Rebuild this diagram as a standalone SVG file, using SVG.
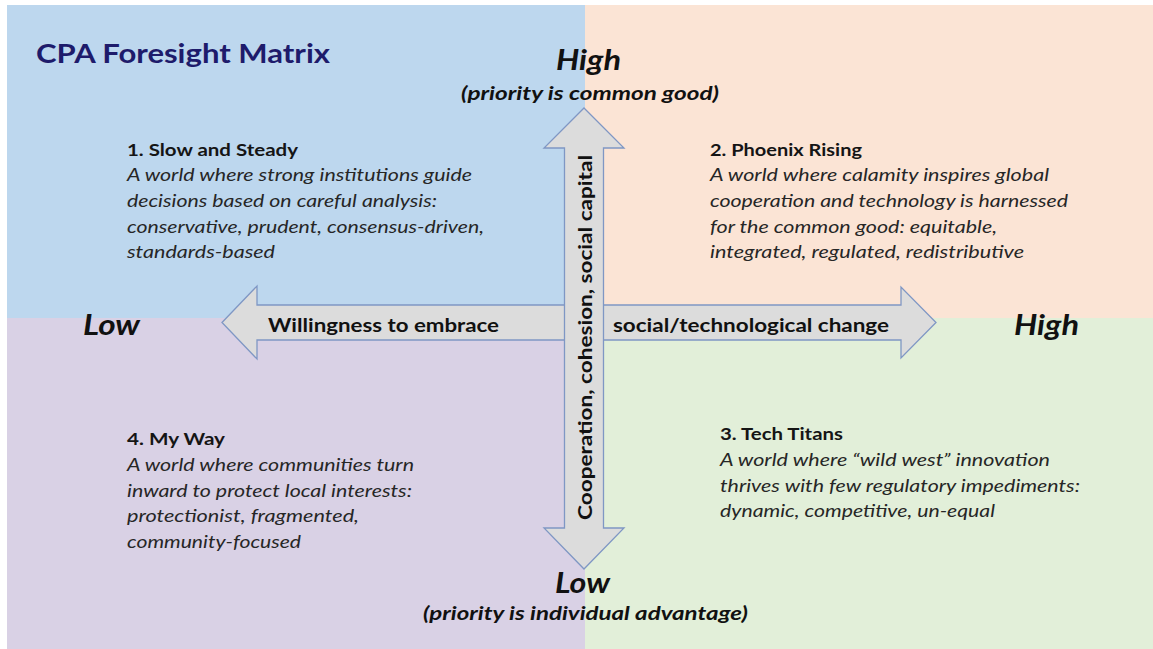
<svg xmlns="http://www.w3.org/2000/svg" width="1153" height="649" viewBox="0 0 1153 649">
  <style>
    text { font-family: Lato, "Liberation Sans", sans-serif; }
    .title { font-size: 27px; font-weight: bold; fill: #1e1b6b; }
    .pole { font-size: 29px; font-weight: bold; font-style: italic; fill: #111; }
    .sub { font-size: 19.5px; font-weight: bold; font-style: italic; fill: #111; }
    .axis { font-size: 19.5px; font-weight: bold; fill: #111; }
    .head { font-size: 17.5px; font-weight: bold; fill: #151515; }
    .body { font-size: 17.5px; font-style: italic; fill: #262626; }
    .arrow { fill: #dcdcdc; stroke: #7f97c4; stroke-width: 1.3; stroke-linejoin: miter; }
  </style>

  <!-- quadrant backgrounds -->
  <rect x="0" y="0" width="1153" height="649" fill="#ffffff"/>
  <rect x="7" y="5" width="578" height="313" fill="#bdd7ee"/>
  <rect x="585" y="5" width="568" height="313" fill="#fbe4d5"/>
  <rect x="7" y="318" width="578" height="331" fill="#d9d1e5"/>
  <rect x="585" y="318" width="568" height="331" fill="#e2efd9"/>

  <text class="title" x="36" y="63" textLength="294" lengthAdjust="spacingAndGlyphs">CPA Foresight Matrix</text>

  <!-- axes -->
  <g id="connectors">
    <polygon id="axis-change" class="arrow" points="222,322.5 257,286 257,305 901,305 901,287 936,322.5 901,358 901,340 257,340 257,359"/>
    <polygon id="axis-cooperation" class="arrow" points="584,108 624,148 603.5,148 603.5,528 624,528 584,569 544,528 564.5,528 564.5,148 544,148"/>
  </g>

  <!-- axis labels -->
  <g id="label-high-top">
    <text class="pole" x="556" y="70" textLength="65" lengthAdjust="spacingAndGlyphs">High</text>
    <text class="sub" x="461" y="100" textLength="258" lengthAdjust="spacingAndGlyphs">(priority is common good)</text>
  </g>
  <g id="label-low-bottom">
    <text class="pole" x="555" y="593" textLength="55" lengthAdjust="spacingAndGlyphs">Low</text>
    <text class="sub" x="423" y="620" textLength="325" lengthAdjust="spacingAndGlyphs">(priority is individual advantage)</text>
  </g>
  <g id="label-low-left">
    <text class="pole" x="83" y="335" textLength="57" lengthAdjust="spacingAndGlyphs">Low</text>
  </g>
  <g id="label-high-right">
    <text class="pole" x="1014" y="335" textLength="65" lengthAdjust="spacingAndGlyphs">High</text>
  </g>
  <g id="label-change">
    <text class="axis" x="268" y="332" textLength="231" lengthAdjust="spacingAndGlyphs">Willingness to embrace</text>
    <text class="axis" x="613" y="332" textLength="276" lengthAdjust="spacingAndGlyphs">social/technological change</text>
  </g>
  <g id="label-cooperation">
    <text class="axis" transform="translate(592,520) rotate(-90)" x="0" y="0" textLength="365" lengthAdjust="spacingAndGlyphs">Cooperation, cohesion, social capital</text>
  </g>

  <!-- scenario 1 -->
  <g id="scenario-1">
    <text class="head" x="127" y="156" textLength="171" lengthAdjust="spacingAndGlyphs">1. Slow and Steady</text>
    <text class="body" x="127" y="181" textLength="345" lengthAdjust="spacingAndGlyphs">A world where strong institutions guide</text>
    <text class="body" x="127" y="207" textLength="310" lengthAdjust="spacingAndGlyphs">decisions based on careful analysis:</text>
    <text class="body" x="127" y="232.5" textLength="357" lengthAdjust="spacingAndGlyphs">conservative, prudent, consensus-driven,</text>
    <text class="body" x="127" y="258" textLength="148" lengthAdjust="spacingAndGlyphs">standards-based</text>
  </g>

  <!-- scenario 2 -->
  <g id="scenario-2">
    <text class="head" x="710" y="156" textLength="152" lengthAdjust="spacingAndGlyphs">2. Phoenix Rising</text>
    <text class="body" x="710" y="181" textLength="339" lengthAdjust="spacingAndGlyphs">A world where calamity inspires global</text>
    <text class="body" x="710" y="207" textLength="358" lengthAdjust="spacingAndGlyphs">cooperation and technology is harnessed</text>
    <text class="body" x="710" y="232.5" textLength="287" lengthAdjust="spacingAndGlyphs">for the common good: equitable,</text>
    <text class="body" x="710" y="258" textLength="314" lengthAdjust="spacingAndGlyphs">integrated, regulated, redistributive</text>
  </g>

  <!-- scenario 3 -->
  <g id="scenario-3">
    <text class="head" x="720" y="440" textLength="123" lengthAdjust="spacingAndGlyphs">3. Tech Titans</text>
    <text class="body" x="720" y="466" textLength="330" lengthAdjust="spacingAndGlyphs">A world where “wild west” innovation</text>
    <text class="body" x="720" y="491.5" textLength="360" lengthAdjust="spacingAndGlyphs">thrives with few regulatory impediments:</text>
    <text class="body" x="720" y="517" textLength="275" lengthAdjust="spacingAndGlyphs">dynamic, competitive, un-equal</text>
  </g>

  <!-- scenario 4 -->
  <g id="scenario-4">
    <text class="head" x="127" y="445" textLength="98" lengthAdjust="spacingAndGlyphs">4. My Way</text>
    <text class="body" x="127" y="471" textLength="287" lengthAdjust="spacingAndGlyphs">A world where communities turn</text>
    <text class="body" x="127" y="497" textLength="285" lengthAdjust="spacingAndGlyphs">inward to protect local interests:</text>
    <text class="body" x="127" y="522" textLength="232" lengthAdjust="spacingAndGlyphs">protectionist, fragmented,</text>
    <text class="body" x="127" y="548" textLength="174" lengthAdjust="spacingAndGlyphs">community-focused</text>
  </g>
</svg>
